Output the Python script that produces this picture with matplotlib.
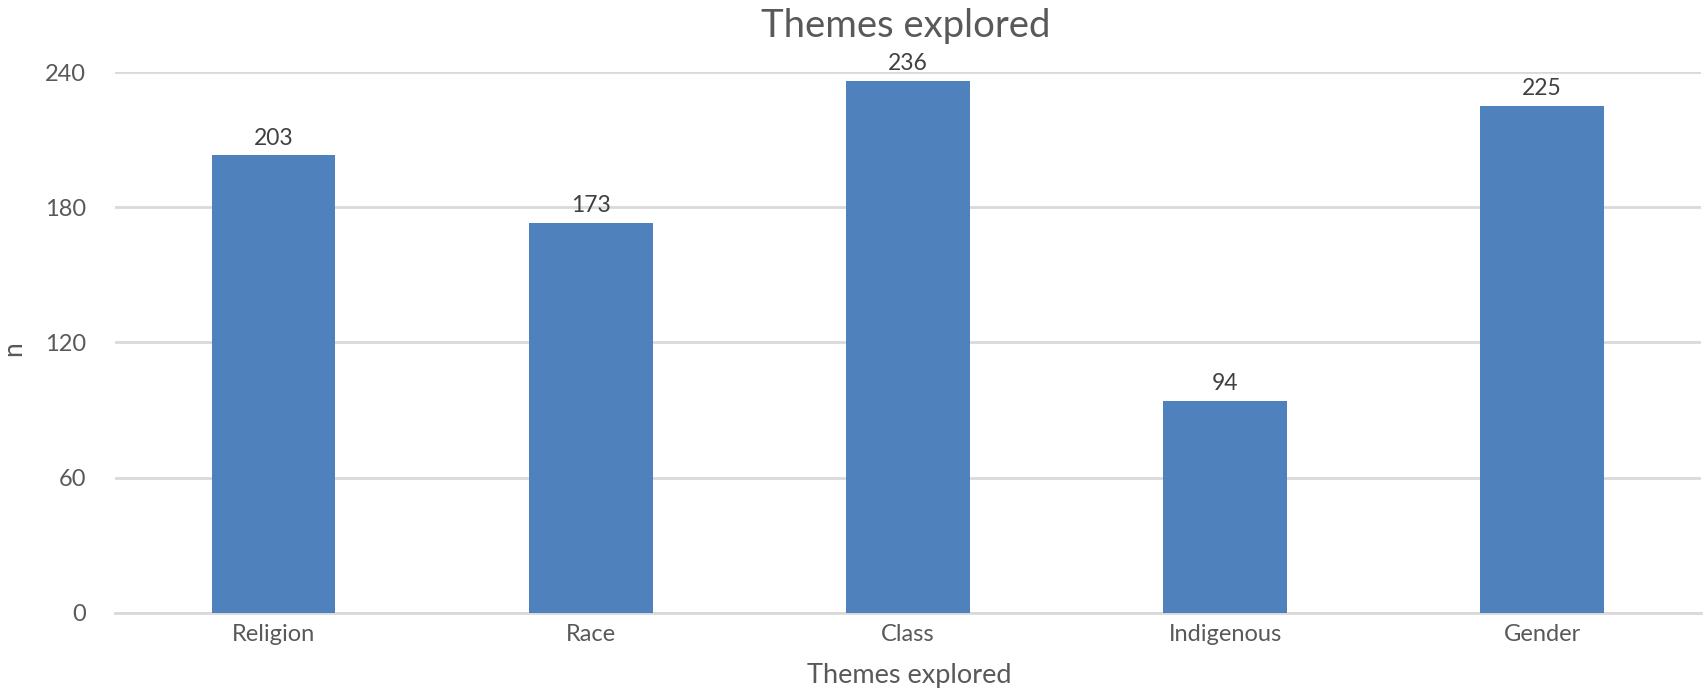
import matplotlib.pyplot as plt
import numpy as np

plt.rcParams['font.family'] = ['Lato', 'DejaVu Sans']

# 主题统计数据
themes = ['Religion', 'Race', 'Class', 'Indigenous', 'Gender']
counts = [203, 173, 236, 94, 225]
y_ticks = [0, 60, 120, 180, 240]

bar_color = '#4F81BD'
grid_color = '#D9D9D9'
text_color = '#595959'

fig = plt.figure(figsize=(17.05, 6.91), dpi=100)
ax = fig.add_axes([0.0675, 0.1129, 0.930, 0.7829])

x = np.arange(len(themes))
bars = ax.bar(x, counts, width=0.39, color=bar_color, zorder=3)

# 柱子顶部的数值标签
for rect, v in zip(bars, counts):
    ax.text(rect.get_x() + rect.get_width() / 2, v + 3, str(v),
            ha='center', va='bottom', fontsize=16.5, color='#404040', zorder=4)

ax.set_xlim(-0.5, len(themes) - 0.5)
ax.set_ylim(0, 240)
ax.set_yticks(y_ticks)
ax.set_xticks(x)
ax.set_xticklabels(themes)
ax.tick_params(axis='both', length=0, labelsize=17, labelcolor=text_color)
ax.tick_params(axis='y', pad=21)
ax.tick_params(axis='x', pad=8)

ax.yaxis.grid(True, color=grid_color, linewidth=2, zorder=0)
for s in ['top', 'right', 'left']:
    ax.spines[s].set_visible(False)
ax.spines['bottom'].set_color(grid_color)
ax.spines['bottom'].set_linewidth(2)
for lbl in ax.get_yticklabels():
    lbl.set_horizontalalignment('right')

fig.text(0.531, 0.963, 'Themes explored', ha='center', va='center',
         fontsize=27.5, color=text_color)
fig.text(0.533, 0.022, 'Themes explored', ha='center', va='center',
         fontsize=19.5, color=text_color)
fig.text(0.008, 0.495, 'n', ha='center', va='center', rotation=90,
         fontsize=19, color=text_color)

fig.savefig('out.png', dpi=100)
